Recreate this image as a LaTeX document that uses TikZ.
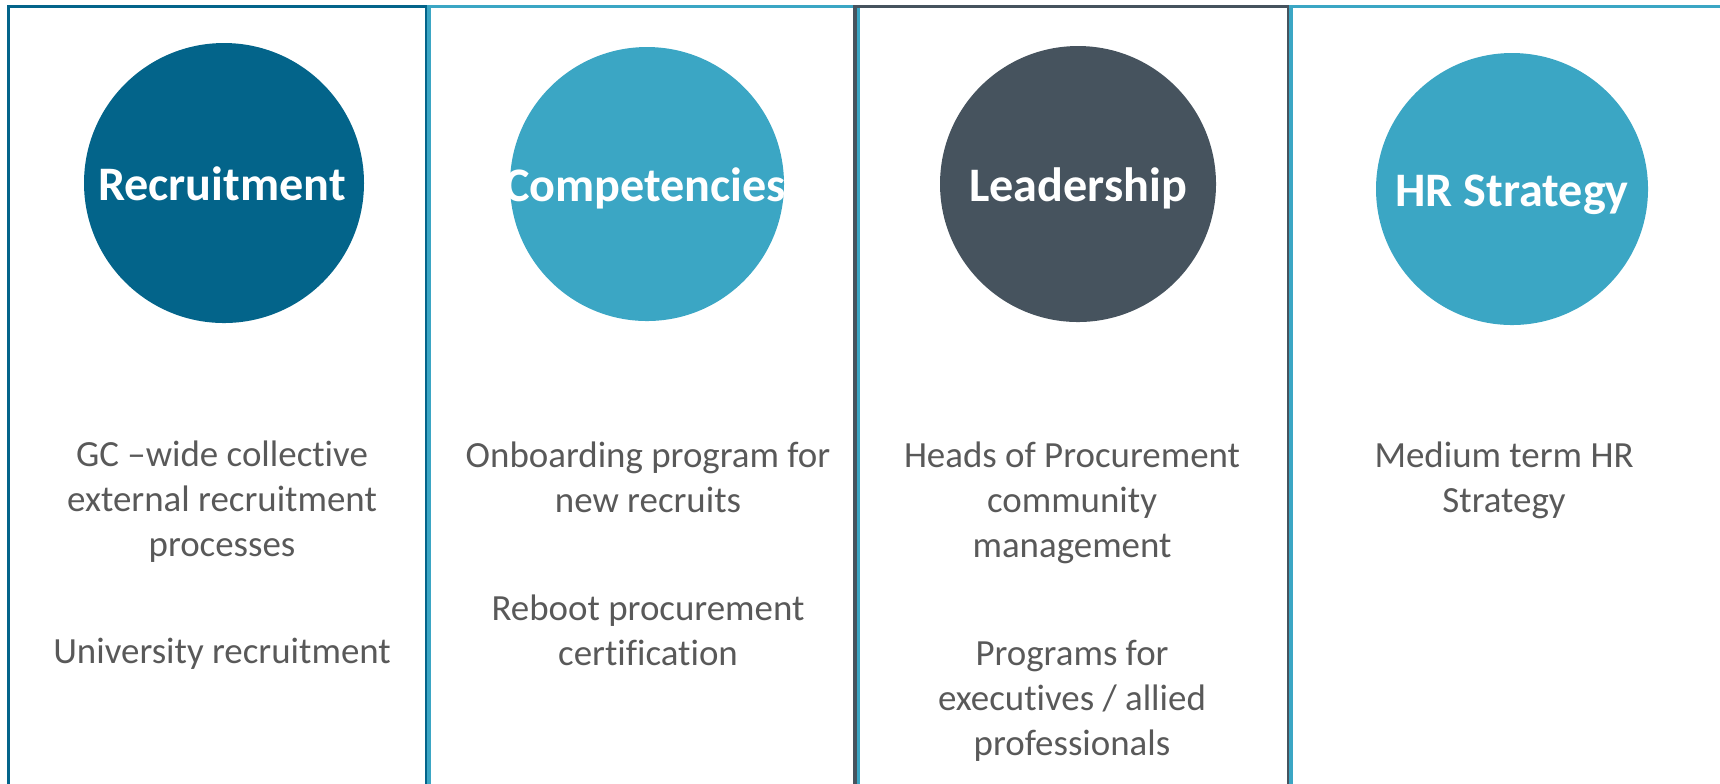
\documentclass[tikz,border=0pt]{standalone}
\usepackage{fontspec}
\setmainfont{Carlito}[Ligatures=NoCommon]
\definecolor{deepteal}{HTML}{03648A}
\definecolor{skyteal}{HTML}{3BA6C4}
\definecolor{slate}{HTML}{46535E}
\definecolor{bodygray}{HTML}{595959}

\begin{document}
\begin{tikzpicture}[x=0.1mm,y=-0.1mm,
            pillar/.style={draw=#1,line width=1pt},
            blob/.style={circle,fill=#1,draw=none,inner sep=0pt},
            lab/.style={text=white,inner sep=0pt,anchor=base,font=\fontsize{13.7}{16}\selectfont\bfseries},
            item/.style={text=bodygray,align=center,inner sep=0pt,anchor=base,font=\fontsize{10.5}{12.8}\selectfont}
          ]
          \useasboundingbox (0,0) rectangle (1720,783);
          \clip (0,0) rectangle (1720,783);

          %boxes
          \draw[pillar=deepteal] (8.5,820) |- (427,6.5) -- (427,820);
          \draw[pillar=skyteal] (429,820) |- (858.5,6.5) -- (858.5,820);
          \draw[pillar=slate] (855,820) |- (1288.5,6.5) -- (1288.5,820);
          \draw[pillar=skyteal] (1291,820) |- (1760,6.5);

          %circles
          \node[blob=deepteal,minimum size=28mm] (rec) at (224,183) {};
          \node[blob=skyteal,minimum size=27.4mm] (comp) at (647,184) {};
          \node[blob=slate,minimum size=27.6mm] (lead) at (1078,184) {};
          \node[blob=skyteal,minimum size=27.2mm] (hrs) at (1512,189) {};

          %labels
          \node[lab] (rec-t) at (222,200) {Recruitment};
          \node[lab] (comp-t) at (645,201) {Competencies};
          \node[lab] (lead-t) at (1078,201) {Leadership};
          \node[lab] (hrs-t) at (1512,206) {HR Strategy};

          %texts (anchored at the last line)
          \node[item] (rec-a) at (222,556) {GC –wide collective\\external recruitment\\processes};
          \node[item] (rec-b) at (222,663) {University recruitment};
          \node[item] (comp-a) at (648,512) {Onboarding program for\\new recruits};
          \node[item] (comp-b) at (648,665) {Reboot procurement\\certification};
          \node[item] (lead-a) at (1072,557) {Heads of Procurement\\community\\management};
          \node[item] (lead-b) at (1072,755) {Programs for\\executives / allied\\professionals};
          \node[item] (hrs-a) at (1504,512) {Medium term HR\\Strategy};

      \end{tikzpicture}
\end{document}
